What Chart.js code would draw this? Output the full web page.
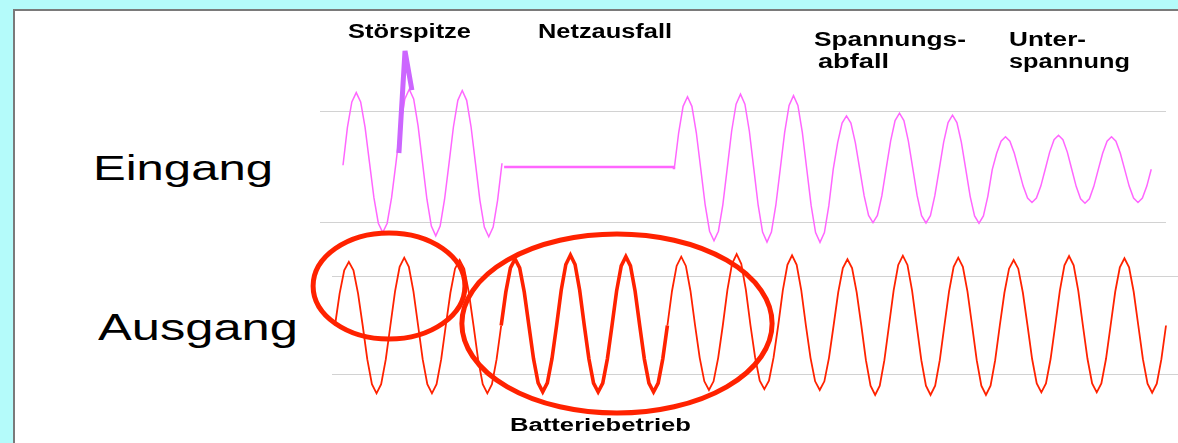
<!DOCTYPE html>
<html>
<head>
<meta charset="utf-8">
<title>USV Eingang / Ausgang</title>
<script src="https://cdn.jsdelivr.net/npm/chart.js"></script>
<style>
  body { margin: 0; width: 1178px; height: 443px; overflow: hidden; position: relative; background: #b4fbfa; font-family: "Liberation Sans", Arial, sans-serif; }
  #panel { position: absolute; left: 13px; top: 9px; width: 1200px; height: 460px; background: #fff; border-left: 2px solid #7a7a7a; border-top: 2px solid #7a7a7a; }
  .box { position: absolute; }
  .lbl { position: absolute; white-space: nowrap; line-height: 1; color: #000; transform-origin: 0 0; }
</style>
</head>
<body>
<div id="panel"></div>
<div class="box" style="left:320px;top:40px;width:846px;height:220px"><canvas id="cIn"></canvas></div>
<div class="box" style="left:300px;top:225px;width:878px;height:218px"><canvas id="cOut"></canvas></div>

<script>
  // time step between samples: 30 degrees of a 20 ms period
  const STEP = 20 / 12;

  // Eingang (input), volts. Part A: normal mains, part B after the outage
  const inA = [
    8, 178, 293, 335, 293, 178, 20, -138, -253, -295, -253, -138,
    20, 185, 306, 350, 306, 185, 20, -145, -266, -310, -266, -145,
    15, 180, 300, 344, 300, 180, 15, -150, -270, -314, -270, -150,
    17
  ];
  const inBStart = 125;
  const inB = [
    -8, 154, 273, 316, 273, 154, -8, -170, -289, -332, -289, -170,
    -5, 162, 283, 328, 283, 162, -5, -172, -293, -338, -293, -172,
    -9, 156, 277, 321, 277, 156, -9, -174, -295, -339, -295, -174,
    -10, 110, 198, 230, 198, 110, -10, -130, -218, -250, -218, -130,
    -5, 118, 209, 242, 209, 118, -5, -129, -219, -252, -219, -129,
    -10, 112, 200, 233, 200, 112, -10, -132, -220, -253, -220, -132,
    -12, 62, 116, 136, 116, 62, -12, -86, -140, -160, -140, -86,
    -10, 67, 123, 143, 123, 67, -10, -87, -143, -163, -143, -87,
    -12, 62, 116, 136, 116, 62, -12, -86, -140, -160, -140, -86,
    -10
  ];
  // Netzausfall: flat line
  const flatT = [60.8, 124.8, 124.9];
  const flatV = [0, 0, -10];
  // Störspitze
  const spikeT = [21.1, 23.4, 26.0];
  const spikeV = [63, 522, 346];

  // Ausgang (output), volts
  const outV = [
    0, 162, 280, 323, 280, 162, 0, -172, -298, -344, -298, -172,
    0, 172, 298, 344, 298, 172, 0, -172, -298, -344, -298, -172,
    0, 166, 288, 332, 288, 166, 0, -172, -298, -344, -298, -172,
    0, 169, 292, 337, 292, 169, 0, -168, -291, -336, -291, -168,
    0, 179, 309, 357, 309, 179, 0, -169, -292, -337, -292, -169,
    0, 175, 302, 349, 302, 175, 0, -169, -292, -337, -292, -169,
    0, 175, 302, 349, 302, 175, 0, -164, -283, -327, -283, -164,
    0, 181, 313, 362, 313, 181, 0, -162, -280, -323, -280, -162,
    0, 178, 308, 356, 308, 178, 0, -164, -283, -327, -283, -164,
    0, 168, 291, 336, 291, 168, 0, -176, -305, -352, -305, -176,
    0, 177, 307, 354, 307, 177, 0, -176, -305, -352, -305, -176,
    0, 172, 298, 344, 298, 172, 0, -176, -305, -352, -305, -176,
    0, 166, 288, 332, 288, 166, 0, -170, -294, -339, -294, -170,
    0, 176, 305, 352, 305, 176, 0, -170, -294, -339, -294, -170,
    0, 171, 295, 341, 295, 171, 0, -171, -295, -341, -295, -171,
    0
  ];
  // battery operation window (ms)
  const batteryT = [60, 120];

  // horizontal guide lines (volts)
  const gridV = [-250, 250];

  // red marking ellipses: centre time, centre volts, half width (ms), half height (V)
  const ringT = [19.5, 101.8];
  const ringV = [200, 10];
  const ringRT = [27.4, 56];
  const ringRV = [269, 454];

  const series = (vals, t0) => vals.map((v, i) => ({ x: t0 + i * STEP, y: v }));
  const zip = (ts, vs) => ts.map((t, i) => ({ x: t, y: vs[i] }));

  const MAGENTA = '#ff66ff';
  const VIOLET = '#cc66ff';
  const RED = '#ff2200';

  function yScale(min, max) {
    return {
      min: min, max: max,
      afterBuildTicks: axis => { axis.ticks = gridV.map(v => ({ value: v })); },
      ticks: { display: false },
      grid: { color: '#d2d2d2', lineWidth: 1, drawTicks: false },
      border: { display: false }
    };
  }

  const common = {
    responsive: true,
    maintainAspectRatio: false,
    animation: false,
    plugins: { legend: { display: false }, tooltip: { enabled: false } },
    elements: { point: { radius: 0 }, line: { tension: 0 } }
  };

  new Chart(document.getElementById('cIn'), {
    type: 'line',
    data: {
      datasets: [
        { data: zip(spikeT, spikeV), borderColor: VIOLET, borderWidth: 5, borderJoinStyle: 'bevel', order: 0 },
        { data: series(inA, 0), borderColor: MAGENTA, borderWidth: 1.5, order: 1 },
        { data: zip(flatT, flatV), borderColor: MAGENTA, borderWidth: 2.5, order: 1 },
        { data: series(inB, inBStart), borderColor: MAGENTA, borderWidth: 1.5, order: 1 }
      ]
    },
    options: Object.assign({}, common, {
      layout: { padding: 0 },
      scales: {
        x: { type: 'linear', min: -8.68, max: 310.57, display: false },
        y: yScale(-418.5, 571.5)
      }
    })
  });

  const rings = {
    id: 'rings',
    afterDatasetsDraw(chart) {
      const ctx = chart.ctx, x = chart.scales.x, y = chart.scales.y;
      ctx.save();
      ctx.strokeStyle = RED;
      ctx.lineWidth = 5;
      ringT.forEach((t, i) => {
        const cx = x.getPixelForValue(t), cy = y.getPixelForValue(ringV[i]);
        const rx = x.getPixelForValue(t + ringRT[i]) - cx;
        const ry = cy - y.getPixelForValue(ringV[i] + ringRV[i]);
        ctx.beginPath();
        ctx.ellipse(cx, cy, rx, ry, 0, 0, Math.PI * 2);
        ctx.stroke();
      });
      ctx.restore();
    }
  };

  new Chart(document.getElementById('cOut'), {
    type: 'line',
    data: {
      datasets: [{
        data: series(outV, 0),
        borderColor: RED,
        borderWidth: 1.8,
        segment: {
          borderWidth: c => (c.p0.parsed.x >= batteryT[0] - 0.01 && c.p1.parsed.x <= batteryT[1] + 0.01) ? 3.6 : 1.8
        }
      }]
    },
    options: Object.assign({}, common, {
      layout: { padding: { left: 32 } },
      scales: {
        x: { type: 'linear', min: -1.08, max: 304.33, display: false },
        y: yScale(-595.7, 509.5)
      }
    }),
    plugins: [rings]
  });

  // text labels: left, baseline, font size, target width
  const texts = [
    ['Störspitze', 348, 37.5, 20, 123, true],
    ['Netzausfall', 538, 38, 20, 134, true],
    ['Spannungs-', 814, 45.5, 20, 152, true],
    ['abfall', 818, 67.5, 20, 71, true],
    ['Unter-', 1009, 45.5, 20, 77, true],
    ['spannung', 1009, 67.5, 20, 121, true],
    ['Eingang', 93, 179.5, 35, 180, false],
    ['Ausgang', 98, 340, 36, 200, false],
    ['Batteriebetrieb', 510, 431.5, 18, 181, true]
  ];
  texts.forEach(([s, x, base, fs, w, bold]) => {
    const d = document.createElement('div');
    d.className = 'lbl';
    d.textContent = s;
    d.style.fontSize = fs + 'px';
    d.style.fontWeight = bold ? 'bold' : 'normal';
    d.style.left = x + 'px';
    d.style.top = (base - 0.8465 * fs) + 'px';
    document.body.appendChild(d);
    const k = w / d.getBoundingClientRect().width;
    d.style.transform = 'scaleX(' + k.toFixed(3) + ')';
  });
</script>
</body>
</html>
